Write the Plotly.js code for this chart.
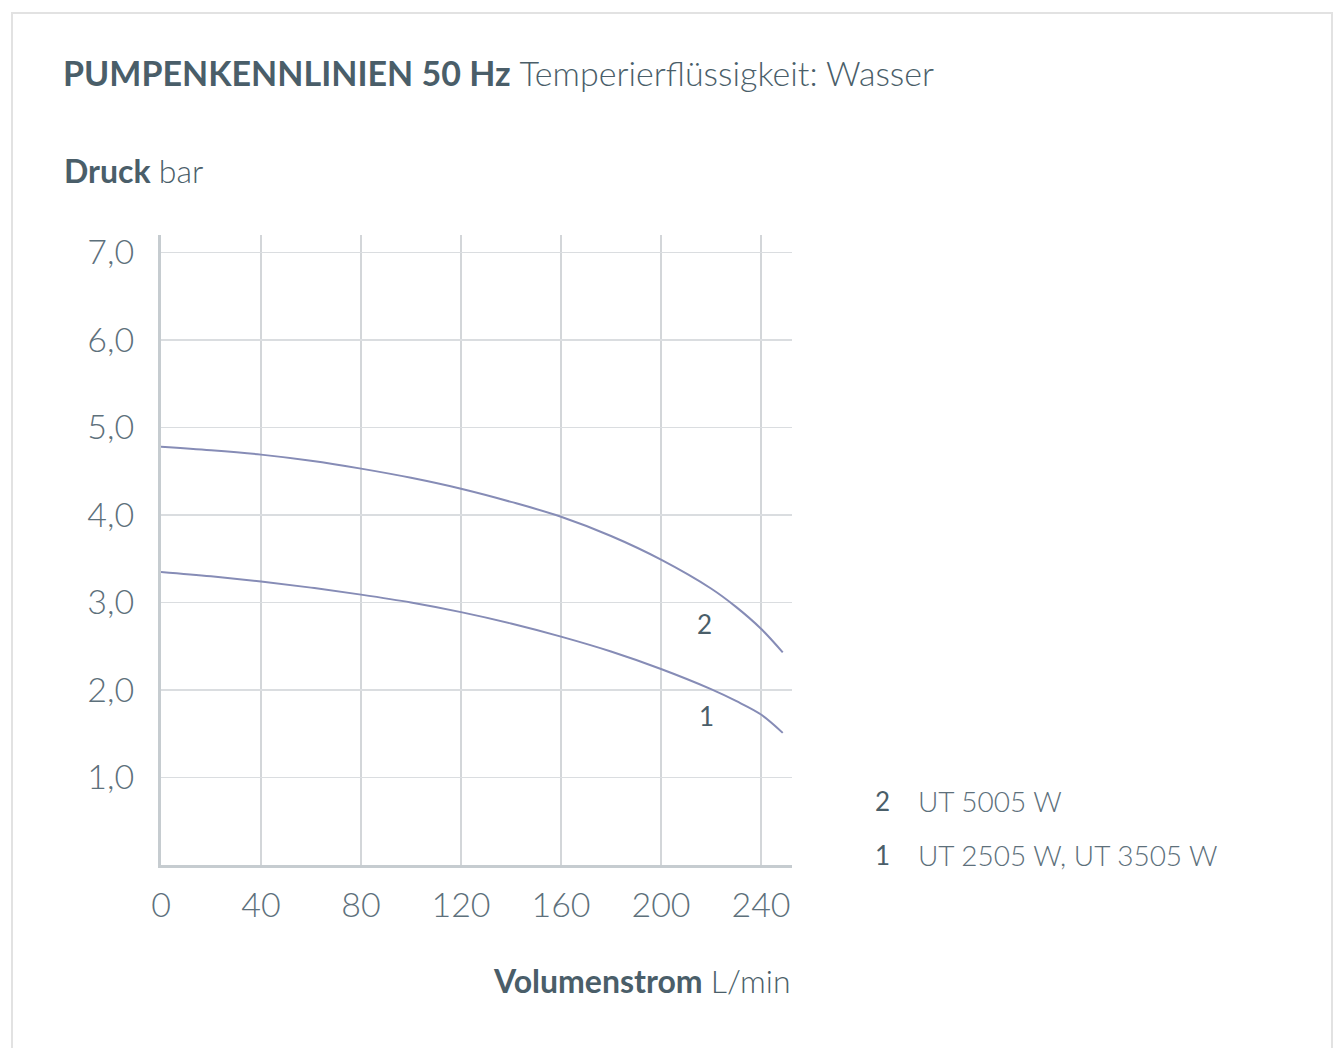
<!DOCTYPE html>
<html>
<head>
<meta charset="utf-8">
<script src="https://cdn.plot.ly/plotly-3.0.1.min.js"></script>
<style>
  html, body { margin: 0; padding: 0; background: #fff; }
  #chart { position: absolute; left: 0; top: 0; width: 1338px; height: 1048px; }
  #frame { position: absolute; left: 11px; top: 12px; width: 1318px; height: 1040px;
           border: 2px solid #e2e2e2; border-bottom: none; pointer-events: none; }
</style>
</head>
<body>
<div id="chart"></div>
<div id="frame"></div>
<script>
// Flow rate (L/min)
const flow = [0, 20, 40, 60, 80, 100, 120, 140, 160, 180, 200, 220, 230, 240, 248.7];
// Pressure (bar) curve 2: UT 5005 W
const pressure2 = [4.78, 4.74, 4.69, 4.62, 4.53, 4.425, 4.30, 4.15, 3.98, 3.76, 3.49, 3.16, 2.95, 2.70, 2.43];
// Pressure (bar) curve 1: UT 2505 W, UT 3505 W
const pressure1 = [3.35, 3.30, 3.24, 3.17, 3.09, 3.00, 2.89, 2.76, 2.61, 2.44, 2.24, 2.01, 1.875, 1.72, 1.51];

const xTickVals = [0, 40, 80, 120, 160, 200, 240];
const yTickVals = [1, 2, 3, 4, 5, 6, 7];
const yTickText = ["1,0", "2,0", "3,0", "4,0", "5,0", "6,0", "7,0"];

const curveLabels = [
  { text: "2", x: 217.5, y: 2.75 },
  { text: "1", x: 218, y: 1.70 }
];
const legendItems = [
  { num: "2", name: "UT 5005 W" },
  { num: "1", name: "UT 2505 W, UT 3505 W" }
];

const FONT = "Lato, 'Open Sans', sans-serif";
const DARK = "#4a5e69";
const TICK = "#5d707b";
const LINE = "#868cb6";

const traces = [
  { x: flow, y: pressure2, mode: "lines", line: { color: LINE, width: 2, shape: "spline", smoothing: 1 }, hoverinfo: "skip", showlegend: false },
  { x: flow, y: pressure1, mode: "lines", line: { color: LINE, width: 2, shape: "spline", smoothing: 1 }, hoverinfo: "skip", showlegend: false }
];

const W = 1338, H = 1048;
const L = 161, R = 546, T = 235, B = 183;
const pw = W - L - R, ph = H - T - B;
function px(xp) { return (xp - L) / pw; }
function py(yp) { return (H - B - yp) / ph; }

const annotations = [];
annotations.push({
  xref: "paper", yref: "paper", x: px(62), y: py(171), xanchor: "left", yanchor: "middle",
  text: "<b>Druck</b> <span style='font-weight:300'>bar</span>", showarrow: false,
  font: { family: FONT, size: 32, color: DARK }
});
annotations.push({
  xref: "paper", yref: "paper", x: px(793), y: py(980), xanchor: "right", yanchor: "middle",
  text: "<b>Volumenstrom</b> <span style='font-weight:300'>L/min</span>", showarrow: false,
  font: { family: FONT, size: 32, color: DARK }
});
curveLabels.forEach(c => annotations.push({
  xref: "x", yref: "y", x: c.x, y: c.y, text: c.text, showarrow: false,
  xanchor: "center", yanchor: "middle", font: { family: FONT, size: 26, color: DARK }
}));
legendItems.forEach((it, i) => {
  const yy = 801 + i * 54;
  annotations.push({
    xref: "paper", yref: "paper", x: px(892), y: py(yy), xanchor: "right", yanchor: "middle",
    text: it.num, showarrow: false, font: { family: FONT, size: 26, color: DARK }
  });
  annotations.push({
    xref: "paper", yref: "paper", x: px(916), y: py(yy), xanchor: "left", yanchor: "middle",
    text: it.name, showarrow: false, font: { family: FONT, size: 28, color: TICK, weight: 300 }
  });
});

const layout = {
  width: W, height: H,
  margin: { l: L, r: R, t: T, b: B, pad: 0 },
  paper_bgcolor: "rgba(0,0,0,0)", plot_bgcolor: "#fff",
  title: {
    text: "<b>PUMPENKENNLINIEN 50 Hz</b> <span style='font-weight:300'>Temperierflüssigkeit: Wasser</span>",
    xref: "container", yref: "container", x: 63 / W, xanchor: "left", y: 1 - 74 / H, yanchor: "middle",
    font: { family: FONT, size: 34, color: DARK }
  },
  xaxis: {
    range: [0, 252.4], tickvals: xTickVals, ticks: "", showgrid: true, gridcolor: "#d3d6d9", gridwidth: 1.5,
    showline: true, linecolor: "#c6ccd0", linewidth: 3, zeroline: false,
    tickfont: { family: FONT, size: 34, color: TICK, weight: 300 }, ticklabelstandoff: 8, fixedrange: true
  },
  yaxis: {
    range: [0, 7.2], tickvals: yTickVals, ticktext: yTickText, ticks: "", showgrid: true, gridcolor: "#dadde0", gridwidth: 1.5,
    showline: true, linecolor: "#c6ccd0", linewidth: 3, zeroline: false,
    tickfont: { family: FONT, size: 34, color: TICK, weight: 300 }, ticklabelstandoff: 17, fixedrange: true
  },
  annotations: annotations,
  showlegend: false
};

Plotly.newPlot("chart", traces, layout, { displayModeBar: false, staticPlot: true });
</script>
</body>
</html>
